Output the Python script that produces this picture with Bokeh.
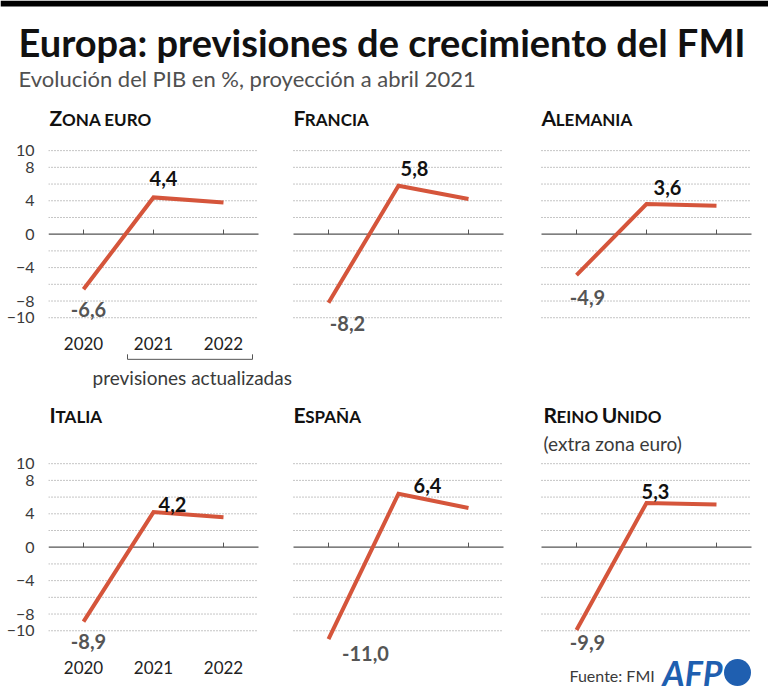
from bokeh.plotting import figure
from bokeh.models import (Range1d, FixedTicker, Label, LabelSet, ColumnDataSource,
                          BoxAnnotation)
from bokeh.layouts import column, row
from bokeh.embed import file_html
from bokeh.resources import INLINE
from bokeh.core.properties import value

# ---------------- data ----------------
years = ["2020", "2021", "2022"]
zona_euro = [-6.6, 4.4, 3.8]
francia = [-8.2, 5.8, 4.2]
alemania = [-4.9, 3.6, 3.4]
italia = [-8.9, 4.2, 3.6]
espana = [-11.0, 6.4, 4.7]
reino_unido = [-9.9, 5.3, 5.1]
panel_names = ["Zona euro", "Francia", "Alemania", "Italia", "España", "Reino Unido"]
y_label_ticks = [-10, -8, -4, 0, 4, 8, 10]
grid_ticks = [-10, -8, -6, -4, -2, 2, 4, 6, 8, 10]

title_text = "Europa: previsiones de crecimiento del FMI"
subtitle_text = "Evolución del PIB en %, proyección a abril 2021"
note_text = "previsiones actualizadas"
uk_note = "(extra zona euro)"
source_text = "Fuente: FMI"

# ---------------- styling / layout ----------------
FONT = "Lato"
LINE_COLOR = "#d5553b"
PX_PER_YEAR = 70.0
FRAME_LEFT = 48
FRAME_W = 720
panel_left_px = [48, 293, 541]          # page x of each panel's grid left edge
title_dx = [1, 0, 0, 1, 0, 2]           # title x offsets (px) from grid left edge
# (dx, dy-up) screen offsets for 2021 label and 2020 label, per panel
label_offsets = [
    ((10, 19), (5, -20)),
    ((16, 17), (19, -21)),
    ((21, 17), (11, -22)),
    ((19, 8), (5, -20)),
    ((29, 8), (37, -14)),
    ((9, 11), (11, -13)),
]

# Lato Bold approximate advance widths (em)
W = {"A": .68, "B": .64, "C": .64, "D": .72, "E": .56, "F": .54, "G": .70, "H": .74,
     "I": .29, "J": .40, "K": .66, "L": .50, "M": .88, "N": .74, "O": .77, "P": .60,
     "Q": .77, "R": .62, "S": .53, "T": .58, "U": .71, "V": .67, "W": .97, "X": .66,
     "Y": .63, "Z": .60, "Ñ": .74, " ": .30}
BIG, SMALL = 21, 17


def fmt(v):
    return f"{v:.1f}".replace(".", ",")


def add_small_caps(p, rn, text, x, y, x0):
    """Small caps: original capitals large, other letters as smaller capitals."""
    runs = []
    for ch in text:
        big = ch.isupper()
        if runs and runs[-1][0] == big:
            runs[-1][1] += ch
        else:
            runs.append([big, ch])
    off = float(x0)
    for big, chunk in runs:
        size = BIG if big else SMALL
        t = chunk.upper()
        p.add_layout(Label(x=x, y=y, x_offset=off, y_offset=0.36 * size, text=t,
                           x_range_name=rn, text_font=FONT, text_font_style="bold",
                           text_font_size=f"{size}px", text_baseline="middle",
                           text_color="#111111"))
        off += sum(W.get(c, 0.65) for c in t) * size


def make_row(first_panel, height, yr, title_y, xlabel_y):
    p = figure(width=768, height=height, x_range=Range1d(0, FRAME_W), y_range=Range1d(*yr),
               min_border_left=FRAME_LEFT, min_border_right=0, min_border_top=0,
               min_border_bottom=0, toolbar_location=None, output_backend="svg", title=None)
    p.outline_line_color = None
    p.grid.visible = False
    p.xaxis.visible = False
    p.yaxis.ticker = FixedTicker(ticks=y_label_ticks)
    p.yaxis.axis_line_color = None
    p.yaxis.major_tick_line_color = None
    p.yaxis.minor_tick_line_color = None
    p.yaxis.major_label_standoff = 8
    p.yaxis.major_label_text_font = FONT
    p.yaxis.major_label_text_font_size = "16px"
    p.yaxis.major_label_text_color = "#3a3a3a"

    idx = list(range(len(years)))
    lo, hi = -0.5, len(years) - 0.5
    for j in range(3):
        k = first_panel + j
        rn = f"p{j}"
        start = -0.5 - (panel_left_px[j] - FRAME_LEFT) / PX_PER_YEAR
        p.extra_x_ranges[rn] = Range1d(start, start + FRAME_W / PX_PER_YEAR)
        vals = series[k]
        n = len(grid_ticks)
        p.segment(x0=[lo] * n, y0=grid_ticks, x1=[hi] * n, y1=grid_ticks, x_range_name=rn,
                  line_color="#8a8a8a", line_width=1, line_dash="1 2")
        p.segment(x0=[lo], y0=[0], x1=[hi], y1=[0], x_range_name=rn,
                  line_color="#555555", line_width=1.3)
        p.segment(x0=idx, y0=[0] * 3, x1=idx, y1=[0.55] * 3, x_range_name=rn,
                  line_color="#555555", line_width=1)
        p.line(x=idx, y=vals, x_range_name=rn, line_color=LINE_COLOR, line_width=4,
               line_join="miter")
        offs = label_offsets[k]
        src = ColumnDataSource(dict(
            x=[idx[1], idx[0]], y=[vals[1], vals[0]],
            text=[fmt(vals[1]), fmt(vals[0])],
            dx=[offs[0][0], offs[1][0]], dy=[offs[0][1], offs[1][1]],
            color=["#111111", "#555555"]))
        p.add_layout(LabelSet(x="x", y="y", text="text", source=src, x_offset="dx",
                              y_offset="dy", text_color="color", text_font=value(FONT),
                              text_font_style="bold", text_font_size="20px",
                              text_align="center", text_baseline="middle",
                              x_range_name=rn))
        add_small_caps(p, rn, panel_names[k], lo, title_y, title_dx[k])
        if j == 0:
            p.text(x=idx, y=[xlabel_y] * 3, text=years, x_range_name=rn,
                   text_font=value(FONT), text_font_size="17px", text_color="#222222",
                   text_align="center", text_baseline="middle")
    return p


series = [zona_euro, francia, alemania, italia, espana, reino_unido]

# header
header = figure(width=768, height=100, x_range=Range1d(0, 768), y_range=Range1d(100, 0),
                min_border=0, toolbar_location=None, output_backend="svg", title=None)
header.axis.visible = False
header.grid.visible = False
header.outline_line_color = None
header.add_layout(BoxAnnotation(left=0, right=768, top=0, bottom=6, fill_color="black",
                                fill_alpha=1, line_color=None))
header.add_layout(Label(x=18, y=41, text=title_text, text_font=FONT, text_font_style="bold",
                        text_font_size="38px", text_color="#111111", text_baseline="middle"))
header.add_layout(Label(x=18, y=77.5, text=subtitle_text, text_font=FONT,
                        text_font_size="22px", text_color="#505050", text_baseline="middle"))

row1 = make_row(0, 290, (-18.71, 16.0), 13.01, -13.14)
row2 = make_row(3, 308, (-18.11, 18.76), 14.96, -14.4)

# bracket + note under the forecast years in the Zona euro panel
bx0, bx1 = 1 - 26 / PX_PER_YEAR, 2 + 29 / PX_PER_YEAR
row1.line(x=[bx0, bx0, bx1, bx1], y=[-14.38, -14.98, -14.98, -14.38], x_range_name="p0",
          line_color="#555555", line_width=1)
row1.add_layout(Label(x=0.129, y=-17.11, text=note_text, x_range_name="p0", text_font=FONT,
                      text_font_size="19px", text_color="#3a3a3a", text_baseline="middle"))

row2.add_layout(Label(x=-0.47, y=12.41, text=uk_note, x_range_name="p2", text_font=FONT,
                      text_font_size="19px", text_color="#3a3a3a", text_baseline="middle"))
row2.add_layout(Label(x=-0.1, y=-15.36, text=source_text, x_range_name="p2", text_font=FONT,
                      text_font_size="16px", text_color="#3a3a3a", text_baseline="middle"))
row2.add_layout(Label(x=1.23, y=-15.0, text="AFP", x_range_name="p2", text_font=FONT,
                      text_font_style="bold italic", text_font_size="34px",
                      text_color="#1f5fb0", text_baseline="middle"))
row2.scatter(x=[2.3], y=[-15.0], x_range_name="p2", marker="circle", size=27,
             fill_color="#1f5fb0", line_color=None)

layout = column(row(header), row(row1), row(row2))
open("out.html", "w").write(file_html(layout, INLINE))
